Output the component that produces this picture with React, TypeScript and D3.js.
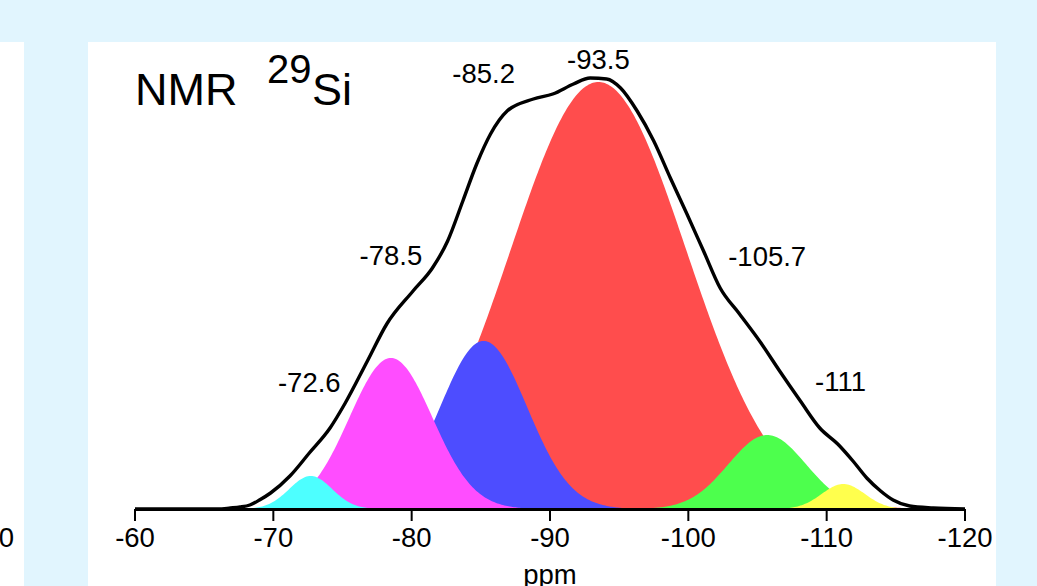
import React from "react";
import * as d3 from "d3";

// ---- data ----
const tickValues = [-60, -70, -80, -90, -100, -110, -120];

// experimental envelope (ppm, intensity)
const envPpm = [-60, -66, -66.9, -67.6, -68.3, -69.0, -69.8, -71.2, -72.6, -74.1,
  -75.2, -76.8, -78.2, -80.1, -81.5, -82.6, -83.7, -84.7, -85.7, -86.9,
  -88.8, -90.2, -91.7, -92.9, -94.1, -95.1, -96.3, -97.5, -98.7, -99.9,
  -101.1, -102.3, -103.7, -105.2, -106.6, -108.1, -109.5, -110.8, -111.9, -112.9,
  -113.9, -114.8, -116.0, -117.7, -120];
const envInt = [0, 0, 1, 2, 4, 9, 16, 33, 56, 81,
  106, 148, 185, 218, 241, 268, 308, 345, 375, 398,
  410, 415, 425, 431, 430, 421, 398, 368, 331, 295,
  258, 221, 195, 167, 138, 108, 81, 65, 48, 31,
  18, 9, 3, 1, 0];

// fitted Gaussian components (drawing order)
const compNames = ["Q3b", "Q4a", "Q4b", "Q2b", "Q3a", "Q2a"];
const compCenters = [-93.5, -105.7, -111.2, -85.2, -78.5, -72.7];
const compHeights = [427, 74, 25, 168, 151, 33];
const compSigmas = [6.35, 2.8, 1.55, 3.15, 3.0, 1.55];
const compColors = ["#ff4d4d", "#4dff4d", "#ffff4d", "#4d4dff", "#ff4dff", "#4dffff"];

// peak annotations
const labelTexts = ["-93.5", "-85.2", "-78.5", "-72.6", "-105.7", "-111"];
const labelPpm = [-93.5, -85.2, -78.5, -72.6, -105.7, -111.0];
const labelInt = [440, 426, 244, 117, 243, 118];

const W = 1037;
const H = 586;

export default function App() {
  React.useEffect(() => {
    document.body.style.margin = "0";
  }, []);

  const x = d3.scaleLinear().domain([-60, -120]).range([135, 965]);
  const y = d3.scaleLinear().domain([0, 440]).range([509, 69]);

  const samples = d3.range(-60, -120.001, -0.1);
  const area = d3
    .area<number[]>()
    .x((d) => x(d[0]))
    .y0(y(0))
    .y1((d) => y(d[1]));

  const comps = compCenters.map((c, i) => {
    const pts = samples.map((p) => [
      p,
      compHeights[i] * Math.exp(-0.5 * Math.pow((p - c) / compSigmas[i], 2)),
    ]);
    return { name: compNames[i], color: compColors[i], d: area(pts) || "" };
  });

  const envLine = d3
    .line<number>()
    .x((_, i) => x(envPpm[i]))
    .y((d) => y(d))
    .curve(d3.curveMonotoneX);

  const font = "'Liberation Sans', Arial, Helvetica, sans-serif";

  return (
    <svg
      width={W}
      height={H}
      style={{ position: "absolute", left: 0, top: 0, display: "block" }}
      fontFamily={font}
    >
      <rect x={0} y={0} width={W} height={H} fill="#e1f5fe" />
      {/* previous panel fragment */}
      <rect x={0} y={42} width={24} height={H - 42} fill="#ffffff" />
      <text x={14} y={547} fontSize={27.5} textAnchor="end" fill="#000">
        -120
      </text>
      <rect x={24} y={42} width={64} height={H - 42} fill="#e1f5fe" />
      {/* main panel */}
      <rect x={88} y={42} width={908} height={H - 42} fill="#ffffff" />

      {comps.map((c) => (
        <path key={c.name} d={c.d} fill={c.color} />
      ))}

      <path
        d={envLine(envInt) || ""}
        fill="none"
        stroke="#000"
        strokeWidth={3.4}
        strokeLinejoin="round"
      />

      {/* axis */}
      <line x1={x(-60)} x2={x(-120)} y1={509.5} y2={509.5} stroke="#000" strokeWidth={3} />
      {tickValues.map((t) => (
        <g key={t}>
          <line x1={x(t)} x2={x(t)} y1={509} y2={521} stroke="#000" strokeWidth={2} />
          <text x={x(t)} y={547} fontSize={27.5} textAnchor="middle" fill="#000">
            {t}
          </text>
        </g>
      ))}
      <text x={550} y={584} fontSize={27.5} textAnchor="middle" fill="#000">
        ppm
      </text>

      {/* annotations */}
      {labelTexts.map((t, i) => (
        <text
          key={t}
          x={x(labelPpm[i])}
          y={y(labelInt[i])}
          fontSize={27.5}
          textAnchor="middle"
          fill="#000"
        >
          {t}
        </text>
      ))}

      {/* title */}
      <text x={135} y={105} fontSize={45} fill="#000">
        NMR
      </text>
      <text x={267} y={83} fontSize={40} fill="#000">
        29
      </text>
      <text x={312} y={105} fontSize={45} fill="#000">
        Si
      </text>
    </svg>
  );
}
